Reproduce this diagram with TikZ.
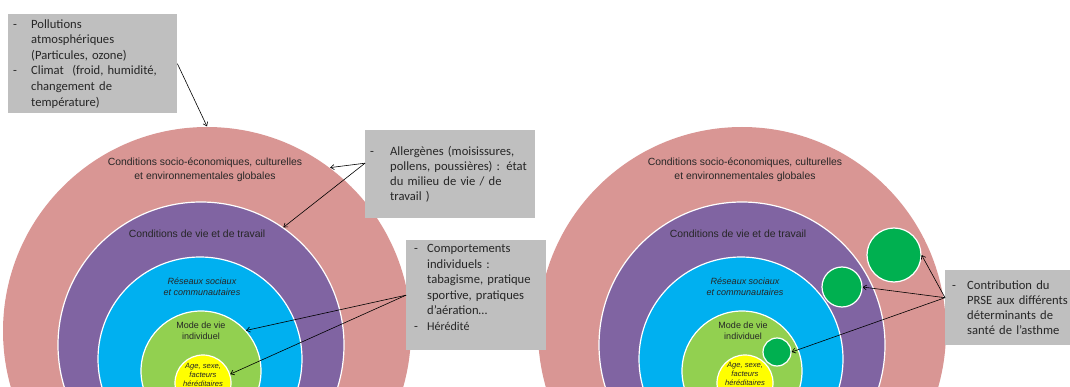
\documentclass[tikz,border=0pt]{standalone}
\usepackage{fontspec}
\setmainfont{Carlito}
\newfontfamily\arialfont{Liberation Sans}
\usetikzlibrary{arrows.meta, positioning}
\definecolor{ringpink}{RGB}{217,150,148}
\definecolor{ringpurple}{RGB}{128,100,162}
\definecolor{ringblue}{RGB}{0,176,240}
\definecolor{ringgreen}{RGB}{146,208,80}
\definecolor{ringyellow}{RGB}{255,255,0}
\definecolor{prsegreen}{RGB}{0,176,80}
\definecolor{notegray}{RGB}{191,191,191}
\newcommand{\itemdash}[1]{\makebox[#1][l]{-}}
\newcommand{\itemind}[1]{\hspace*{#1}}

\begin{document}
\begin{tikzpicture}[x=1pt, y=-1pt,
          ring/.style={
              circle,
              draw=white,
              line width=1.2pt,
              inner sep=0pt,
              minimum size=#1
            },
          note/.style={
              fill=notegray,
              anchor=north west,
              inner ysep=0pt,
              align=left,
              text=black!85,
              font=\fontsize{12.6}{15.6}\selectfont
            },
          lbl/.style={
              align=center,
              text=black!85,
              font=\arialfont\fontsize{10.4}{14}\selectfont
            },
          smalllbl/.style={
              align=center,
              text=black!85,
              font=\arialfont\fontsize{9}{10.8}\selectfont
            },
          ptr/.style={-{Straight Barb[length=3.5pt, width=5pt]}, black, line width=0.6pt}
        ]
        \useasboundingbox (0,0) rectangle (1070,387);
        \clip (0,0) rectangle (1070,387);

        % left diagram
        \node[ring=408pt, fill=ringpink, draw=none] (globalL) at (207,331) {};
        \node[ring=286pt, fill=ringpurple] (travailL) at (201,345) {};
        \node[ring=204pt, fill=ringblue] (reseauxL) at (200,359) {};
        \node[ring=120pt, fill=ringgreen] (modeL) at (201,371) {};
        \node[ring=56pt, fill=ringyellow] (ageL) at (203,383) {};

        \node[lbl] (globaltxtL) at (205,170) {Conditions socio-économiques, culturelles\\et environnementales globales};
        \node[lbl] (travailtxtL) at (197,234) {Conditions de vie et de travail};
        \node[smalllbl, font=\arialfont\itshape\fontsize{9}{10.8}\selectfont] (reseauxtxtL) at (202,287) {Réseaux sociaux\\et communautaires};
        \node[smalllbl] (modetxtL) at (201,331) {Mode de vie\\individuel};
        \node[smalllbl, font=\arialfont\itshape\fontsize{7.6}{9}\selectfont] (agetxtL) at (203,375) {Age, sexe,\\facteurs\\héréditaires};

        % right diagram
        \node[ring=408pt, fill=ringpink, draw=none] (globalR) at (742,331) {};
        \node[ring=286pt, fill=ringpurple] (travailR) at (742,345) {};
        \node[ring=204pt, fill=ringblue] (reseauxR) at (741,359) {};
        \node[ring=120pt, fill=ringgreen] (modeR) at (742,371) {};
        \node[ring=56pt, fill=ringyellow] (ageR) at (745,383) {};

        \node[lbl] (globaltxtR) at (745,170) {Conditions socio-économiques, culturelles\\et environnementales globales};
        \node[lbl] (travailtxtR) at (738,234) {Conditions de vie et de travail};
        \node[smalllbl, font=\arialfont\itshape\fontsize{9}{10.8}\selectfont] (reseauxtxtR) at (745,287) {Réseaux sociaux\\et communautaires};
        \node[smalllbl] (modetxtR) at (743,331) {Mode de vie\\individuel};
        \node[smalllbl, font=\arialfont\itshape\fontsize{7.6}{9}\selectfont] (agetxtR) at (745,374) {Age, sexe,\\facteurs\\héréditaires};

        \node[ring=54pt, fill=prsegreen] (prseA) at (894,255) {};
        \node[ring=40pt, fill=prsegreen] (prseB) at (842,287) {};
        \node[ring=28pt, fill=prsegreen] (prseC) at (777,352) {};

        % notes
        \node[note, inner xsep=5pt, text width=159pt, minimum height=99pt] (pollution) at (8,14)
          {\itemdash{18pt}Pollutions\\\itemind{18pt}atmosphériques\\\itemind{18pt}(Particules, ozone)\\
           \itemdash{18pt}Climat~ (froid, humidité,\\\itemind{18pt}changement de\\\itemind{18pt}température)};
        \node[note, inner xsep=5pt, text width=160pt, minimum height=88pt, font=\fontsize{12.6}{15}\selectfont] (allergenes) at (365,130)
          {\itemdash{20pt}Allergènes (moisissures,\\\itemind{20pt}\mbox{pollens, poussières) : état}\\\itemind{20pt}du milieu de vie / de\\\itemind{20pt}travail )};
        \node[note, inner xsep=8pt, text width=124pt, minimum height=110pt] (comportements) at (406,240)
          {\itemdash{13pt}Comportements\\\itemind{13pt}individuels :\\\itemind{13pt}tabagisme, pratique\\\itemind{13pt}sportive, pratiques\\\itemind{13pt}d’aération…\\
           \itemdash{13pt}{\fontsize{12}{13}\selectfont Hérédité}\\\mbox{}};
        \node[note, inner xsep=7pt, text width=150pt, minimum height=75pt, font=\fontsize{12.6}{15}\selectfont] (prse) at (945,270)
          {\itemdash{15pt}Contribution du\\\itemind{15pt}PRSE aux différents\\\itemind{15pt}déterminants de\\\itemind{15pt}santé de l’asthme};

        \coordinate (allsrc) at ([yshift=11pt]allergenes.west);
        \coordinate (prsesrc) at ([yshift=10pt]prse.west);

        \draw[ptr] (pollution.east) -- (globalL.north);
        \draw[ptr] (allsrc) -- (globalL.53);
        \draw[ptr] (allsrc) -- (travailL.55);
        \draw[ptr] (comportements.west) -- (modeL.42);
        \draw[ptr] (comportements.west) -- (ageL.18);
        \draw[ptr] (prsesrc) -- (prseA.east);
        \draw[ptr] (prsesrc) -- (prseB.east);
        \draw[ptr] (prsesrc) -- (prseC.east);
      \end{tikzpicture}
\end{document}
